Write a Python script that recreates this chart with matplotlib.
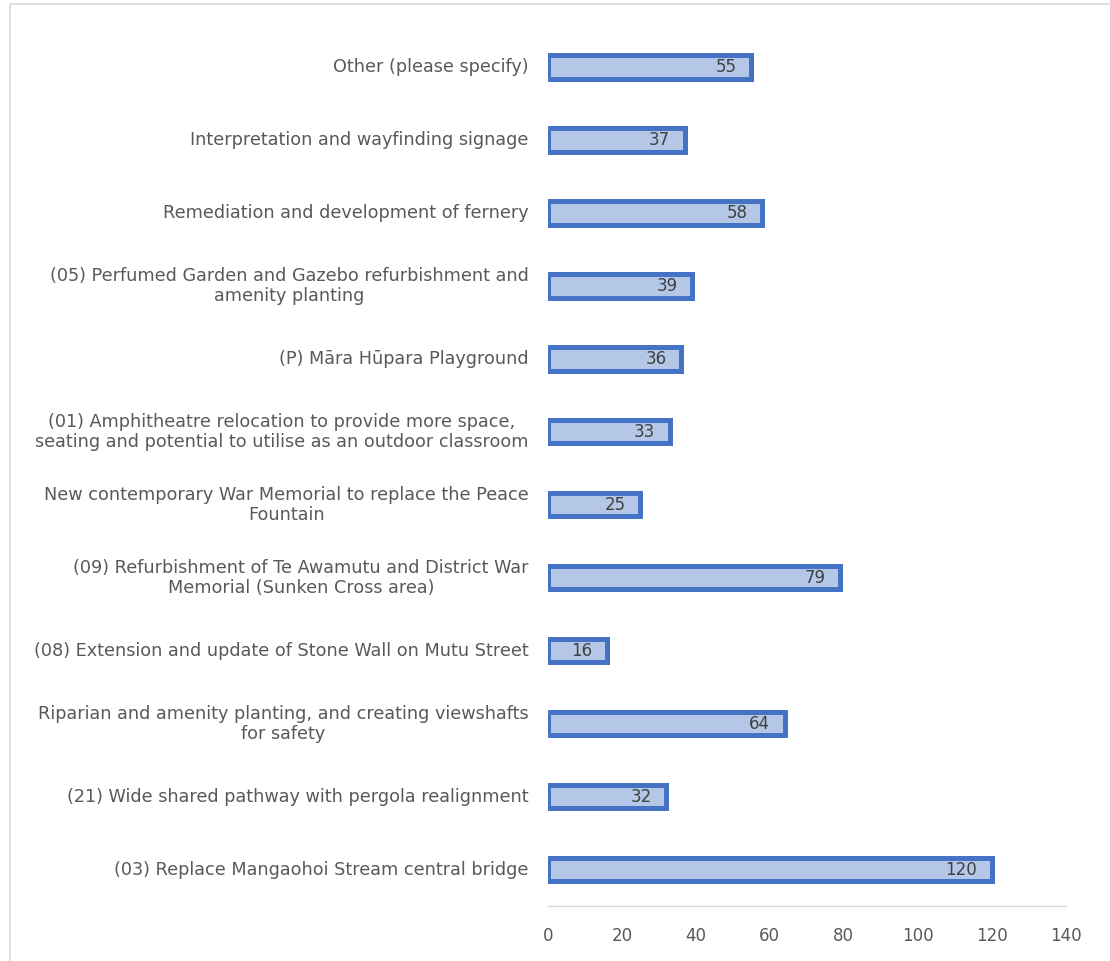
import matplotlib
matplotlib.use("Agg")
import matplotlib.pyplot as plt
from matplotlib.patches import Rectangle

categories = [
    "(03) Replace Mangaohoi Stream central bridge",
    "(21) Wide shared pathway with pergola realignment",
    "Riparian and amenity planting, and creating viewshafts\nfor safety",
    "(08) Extension and update of Stone Wall on Mutu Street",
    "(09) Refurbishment of Te Awamutu and District War\nMemorial (Sunken Cross area)",
    "New contemporary War Memorial to replace the Peace\nFountain",
    "(01) Amphitheatre relocation to provide more space,\nseating and potential to utilise as an outdoor classroom",
    "(P) Māra Hūpara Playground",
    "(05) Perfumed Garden and Gazebo refurbishment and\namenity planting",
    "Remediation and development of fernery",
    "Interpretation and wayfinding signage",
    "Other (please specify)",
]
values = [120, 32, 64, 16, 79, 25, 33, 36, 39, 58, 37, 55]
xticks = [0, 20, 40, 60, 80, 100, 120, 140]

plt.rcParams['font.family'] = ['DejaVu Sans']
text_color = "#595959"

fig = plt.figure(figsize=(11.1, 9.61), dpi=100)
ax = fig.add_axes([0.4937, 0.0572, 0.4663, 0.911])

ypos = list(range(len(values)))
ax.barh(ypos, values, height=0.32, color="#B4C7E7", edgecolor="#4472C4", linewidth=3.6)

for y, v in zip(ypos, values):
    ax.text(v - 4.0, y, str(v), ha="right", va="center", fontsize=12, color="#404040")

ax.set_xlim(0, 140)
ax.set_ylim(-0.5, len(values) - 0.5)
ax.set_yticks(ypos)
ax.set_yticklabels(categories, fontsize=12.7, color=text_color, multialignment="center",
                   linespacing=1.13, va="center")
ax.set_xticks(xticks)
ax.set_xticklabels([str(t) for t in xticks], fontsize=12, color=text_color)
ax.tick_params(axis="y", length=0, pad=14)
ax.tick_params(axis="x", length=0, pad=15)
for s in ["top", "right", "left"]:
    ax.spines[s].set_visible(False)
ax.spines["bottom"].set_color("#D9D9D9")
ax.spines["bottom"].set_linewidth(1)

fig.patches.append(Rectangle((10 / 1110, -0.01), 1.1, 1 - 4 / 961 + 0.01,
                             transform=fig.transFigure, fill=False,
                             edgecolor="#D9D9D9", linewidth=1.2))

fig.savefig("out.png", dpi=100)
